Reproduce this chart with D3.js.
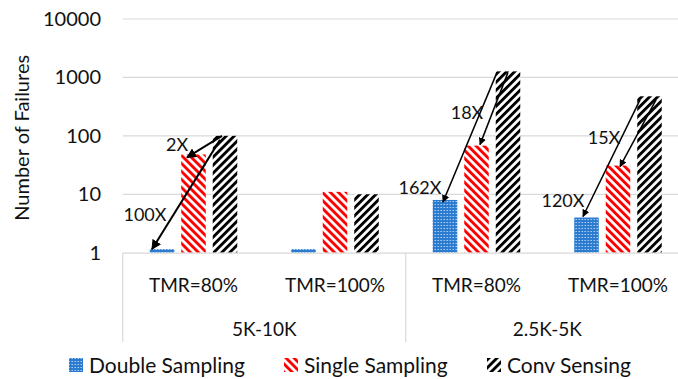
<!DOCTYPE html>
<html><head><meta charset="utf-8">
<script src="https://cdn.jsdelivr.net/npm/d3@7"></script>
<style>
html,body{margin:0;padding:0;background:#fff;}
svg{display:block;font-family:Lato, "Open Sans", sans-serif;}
</style></head>
<body><svg id="chart" width="678" height="379"></svg>
<script>
// ---- data ----
const groups = ["5K-10K", "2.5K-5K"];
const categories = ["TMR=80%", "TMR=100%", "TMR=80%", "TMR=100%"];
const categoryGroup = [0, 0, 1, 1];
const seriesNames = ["Double Sampling", "Single Sampling", "Conv Sensing"];
const doubleSampling = [1.15, 1.15, 8, 4];
const singleSampling = [48, 11, 68, 31];
const convSensing = [100, 10, 1270, 475];
const yTicks = [1, 10, 100, 1000, 10000];
const annotationLabels = ["2X", "100X", "18X", "162X", "15X", "120X"];
const annotationCategory = [0, 0, 2, 2, 3, 3];
const annotationTarget = [1, 0, 1, 0, 1, 0];

const seriesValues = [doubleSampling, singleSampling, convSensing];

// ---- layout ----
const svg = d3.select("#chart");
const plotLeft = 122.75, plotRight = 688.75, plotTop = 19, plotBottom = 252.7;
const y = d3.scaleLog().domain([1, 10000]).range([plotBottom, plotTop]);
const x0 = d3.scaleBand().domain(d3.range(categories.length)).range([plotLeft, plotRight]).padding(0);
const inner = 94.5;
const x1 = d3.scaleBand().domain(d3.range(seriesNames.length)).range([0, inner]).paddingInner(7/31.5).paddingOuter(3.5/31.5);
const innerOffset = (x0.bandwidth() - inner) / 2;
const barX = (c, s) => x0(c) + innerOffset + x1(s);
const barCx = (c, s) => barX(c, s) + x1.bandwidth() / 2;

// ---- patterns ----
const defs = svg.append("defs");
const pBlue = defs.append("pattern").attr("id", "pBlue").attr("patternUnits", "userSpaceOnUse")
  .attr("width", 3).attr("height", 3);
pBlue.append("rect").attr("width", 3).attr("height", 3).attr("fill", "#2b7bd0");
pBlue.append("rect").attr("x", 0).attr("y", 0).attr("width", 1).attr("height", 1).attr("fill", "#a9cdf0");
pBlue.append("rect").attr("x", 2).attr("y", 0).attr("width", 1).attr("height", 1).attr("fill", "#6ea6e2");
function stripe(id, color, angle) {
  const p = defs.append("pattern").attr("id", id).attr("patternUnits", "userSpaceOnUse")
    .attr("width", 5.66).attr("height", 5.66).attr("patternTransform", `rotate(${angle})`);
  p.append("rect").attr("width", 5.66).attr("height", 5.66).attr("fill", "#fff");
  p.append("rect").attr("width", 2.9).attr("height", 5.66).attr("fill", color);
}
stripe("pRed", "#ff0000", -45);
stripe("pBlack", "#000000", 45);
const fills = ["url(#pBlue)", "url(#pRed)", "url(#pBlack)"];

// ---- grid ----
svg.append("g").selectAll("line").data(yTicks.slice(1)).join("line")
  .attr("x1", plotLeft).attr("x2", plotRight)
  .attr("y1", d => y(d)).attr("y2", d => y(d))
  .attr("stroke", "#d9d9d9").attr("stroke-width", 1.2);

// y axis labels via d3 axis
const yAxis = d3.axisLeft(y).tickValues(yTicks).tickFormat(d3.format("d")).tickSize(0).tickPadding(0);
const yg = svg.append("g").attr("transform", `translate(101,0)`).call(yAxis);
yg.select(".domain").remove();
yg.selectAll("text").attr("font-size", 20).attr("fill", "#111").attr("font-family", "Lato, sans-serif");

// y title
svg.append("text").attr("transform", `translate(29,${(plotTop + plotBottom) / 2 + 2}) rotate(-90)`)
  .attr("text-anchor", "middle").attr("font-size", 20).attr("fill", "#111").text("Number of Failures");

// ---- bars ----
const barData = [];
categories.forEach((c, ci) => seriesValues.forEach((vals, si) => barData.push({ ci, si, v: vals[ci] })));
svg.append("g").selectAll("rect").data(barData).join("rect")
  .attr("x", d => barX(d.ci, d.si)).attr("width", x1.bandwidth())
  .attr("y", d => y(d.v)).attr("height", d => y(1) - y(d.v))
  .attr("fill", d => fills[d.si]);

// ---- category axis ----
const axisBottom = 342;
svg.append("line").attr("x1", plotLeft).attr("x2", plotRight).attr("y1", plotBottom + 0.5).attr("y2", plotBottom + 0.5)
  .attr("stroke", "#d9d9d9").attr("stroke-width", 1.2);
const groupEdges = [0, 2, 4].map(i => i < categories.length ? x0(i) : plotRight);
svg.append("g").selectAll("line").data(groupEdges).join("line")
  .attr("x1", d => d).attr("x2", d => d).attr("y1", plotBottom).attr("y2", axisBottom)
  .attr("stroke", "#d9d9d9").attr("stroke-width", 1.2);
svg.append("g").selectAll("text").data(categories).join("text")
  .attr("x", (d, i) => x0(i) + x0.bandwidth() / 2).attr("y", 292)
  .attr("text-anchor", "middle").attr("font-size", 19).attr("fill", "#111").text(d => d);
svg.append("g").selectAll("text").data(groups).join("text")
  .attr("x", (d, gi) => {
    const idx = categoryGroup.map((g, i) => g === gi ? i : -1).filter(i => i >= 0);
    return (x0(idx[0]) + x0(idx[idx.length - 1]) + x0.bandwidth()) / 2;
  })
  .attr("y", 336).attr("text-anchor", "middle").attr("font-size", 19).attr("fill", "#111").text(d => d);

// ---- annotations ----
defs.append("marker").attr("id", "ah").attr("viewBox", "0 0 10 10").attr("refX", 9).attr("refY", 5)
  .attr("markerWidth", 5).attr("markerHeight", 5).attr("orient", "auto").attr("markerUnits", "strokeWidth")
  .append("path").attr("d", "M0,0 L10,5 L0,10 z").attr("fill", "#000");
// layout tweaks (px) for each annotation: start dx/dy from conv bar top, end dx/dy from target bar top, label position
const annLayout = [
  { sdx: -3, sdy: 0, edx: -6.5, edy: 3, lx: 177, ly: 151, w: 2 },
  { sdx: -5, sdy: 4, edx: -10, edy: 0, lx: 145, ly: 221, w: 2 },
  { sdx: 0, sdy: 1, edx: 3.5, edy: -1, lx: 467, ly: 119, w: 1.5 },
  { sdx: -11, sdy: 1, edx: -2, edy: 2, lx: 420, ly: 194, w: 1.5 },
  { sdx: 6.5, sdy: 3.5, edx: 2, edy: 1, lx: 604, ly: 144, w: 1.5 },
  { sdx: -9.5, sdy: 3.5, edx: -3.5, edy: -1, lx: 563, ly: 207, w: 1.5 }
];
const annG = svg.append("g");
annotationLabels.forEach((lab, i) => {
  const c = annotationCategory[i], t = annotationTarget[i], L = annLayout[i];
  const sx = barCx(c, 2) + L.sdx, sy = y(convSensing[c]) + L.sdy;
  const ex = barCx(c, t) + L.edx, ey = y(seriesValues[t][c]) + L.edy;
  annG.append("line").attr("x1", sx).attr("y1", sy).attr("x2", ex).attr("y2", ey)
    .attr("stroke", "#000").attr("stroke-width", L.w).attr("marker-end", "url(#ah)");
  annG.append("text").attr("x", L.lx).attr("y", L.ly).attr("text-anchor", "middle")
    .attr("font-size", 18).attr("fill", "#111").text(lab);
});

// ---- legend ----
const legendX = [69, 284, 487];
const lg = svg.append("g").selectAll("g").data(seriesNames).join("g")
  .attr("transform", (d, i) => `translate(${legendX[i]},358)`);
lg.append("rect").attr("width", 14).attr("height", 14).attr("fill", (d, i) => fills[i]);
lg.append("text").attr("x", 20).attr("y", 14.5).attr("font-size", 21).attr("fill", "#111").text(d => d);
</script></body></html>
